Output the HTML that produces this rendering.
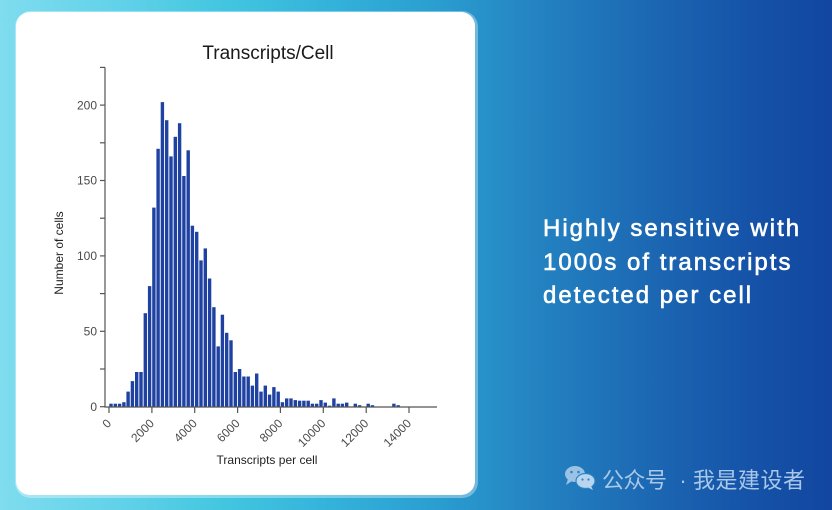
<!DOCTYPE html>
<html>
<head>
<meta charset="utf-8">
<style>
  html, body { margin: 0; padding: 0; }
  body {
    width: 832px; height: 510px; overflow: hidden; position: relative;
    background: linear-gradient(90deg, #80dcef 0%, #62d2e9 14%, #42c6e0 27%, #33b2da 40%, #2a9fd0 52%, #2484c2 64%, #1c68b3 78%, #1553a8 90%, #1246a0 100%);
    font-family: "Liberation Sans", "Noto Sans CJK SC", sans-serif;
  }
  .card {
    position: absolute; left: 16px; top: 12px; width: 459px; height: 483px;
    background: #ffffff; border-radius: 14px;
    box-shadow: 1px 1px 0 2px rgba(255,255,255,0.35);
  }
  svg { position: absolute; left: 0; top: 0; }
</style>
</head>
<body>
<div class="card"></div>
<svg width="832" height="510" viewBox="0 0 832 510" xmlns="http://www.w3.org/2000/svg">
  <text x="268" y="59" text-anchor="middle" font-family="Liberation Sans, sans-serif" font-size="19" fill="#1a1a1a">Transcripts/Cell</text>

  <g fill="#1f42a2">
    <rect x="109.3" y="403.7" width="3.4" height="3.0"/>
    <rect x="113.6" y="403.7" width="3.4" height="3.0"/>
    <rect x="117.9" y="403.7" width="3.4" height="3.0"/>
    <rect x="122.2" y="402.2" width="3.4" height="4.5"/>
    <rect x="126.4" y="391.6" width="3.4" height="15.1"/>
    <rect x="130.7" y="381.1" width="3.4" height="25.6"/>
    <rect x="135.0" y="372.0" width="3.4" height="34.7"/>
    <rect x="139.3" y="372.0" width="3.4" height="34.7"/>
    <rect x="143.6" y="313.2" width="3.4" height="93.5"/>
    <rect x="147.9" y="286.1" width="3.4" height="120.6"/>
    <rect x="152.2" y="207.6" width="3.4" height="199.1"/>
    <rect x="156.4" y="148.8" width="3.4" height="257.9"/>
    <rect x="160.7" y="102.1" width="3.4" height="304.6"/>
    <rect x="165.0" y="120.2" width="3.4" height="286.5"/>
    <rect x="169.3" y="156.4" width="3.4" height="250.3"/>
    <rect x="173.6" y="136.8" width="3.4" height="269.9"/>
    <rect x="177.9" y="123.2" width="3.4" height="283.5"/>
    <rect x="182.2" y="176.0" width="3.4" height="230.7"/>
    <rect x="186.5" y="150.3" width="3.4" height="256.4"/>
    <rect x="190.7" y="225.7" width="3.4" height="181.0"/>
    <rect x="195.0" y="231.8" width="3.4" height="174.9"/>
    <rect x="199.3" y="260.4" width="3.4" height="146.3"/>
    <rect x="203.6" y="248.4" width="3.4" height="158.3"/>
    <rect x="207.9" y="278.5" width="3.4" height="128.2"/>
    <rect x="212.2" y="307.2" width="3.4" height="99.5"/>
    <rect x="216.5" y="346.4" width="3.4" height="60.3"/>
    <rect x="220.7" y="314.7" width="3.4" height="92.0"/>
    <rect x="225.0" y="332.8" width="3.4" height="73.9"/>
    <rect x="229.3" y="340.3" width="3.4" height="66.4"/>
    <rect x="233.6" y="372.0" width="3.4" height="34.7"/>
    <rect x="237.9" y="369.0" width="3.4" height="37.7"/>
    <rect x="242.2" y="376.5" width="3.4" height="30.2"/>
    <rect x="246.5" y="376.5" width="3.4" height="30.2"/>
    <rect x="250.7" y="385.6" width="3.4" height="21.1"/>
    <rect x="255.0" y="373.5" width="3.4" height="33.2"/>
    <rect x="259.3" y="391.6" width="3.4" height="15.1"/>
    <rect x="263.6" y="385.6" width="3.4" height="21.1"/>
    <rect x="267.9" y="394.6" width="3.4" height="12.1"/>
    <rect x="272.2" y="387.1" width="3.4" height="19.6"/>
    <rect x="276.5" y="391.6" width="3.4" height="15.1"/>
    <rect x="280.7" y="402.2" width="3.4" height="4.5"/>
    <rect x="285.0" y="398.4" width="3.4" height="8.3"/>
    <rect x="289.3" y="398.4" width="3.4" height="8.3"/>
    <rect x="293.6" y="400.1" width="3.4" height="6.6"/>
    <rect x="297.9" y="400.7" width="3.4" height="6.0"/>
    <rect x="302.2" y="400.7" width="3.4" height="6.0"/>
    <rect x="306.5" y="400.7" width="3.4" height="6.0"/>
    <rect x="310.7" y="403.7" width="3.4" height="3.0"/>
    <rect x="315.0" y="403.7" width="3.4" height="3.0"/>
    <rect x="319.3" y="400.1" width="3.4" height="6.6"/>
    <rect x="323.6" y="402.6" width="3.4" height="4.1"/>
    <rect x="327.9" y="405.7" width="3.4" height="1.0"/>
    <rect x="332.2" y="398.4" width="3.4" height="8.3"/>
    <rect x="336.5" y="403.7" width="3.4" height="3.0"/>
    <rect x="340.7" y="403.7" width="3.4" height="3.0"/>
    <rect x="345.0" y="402.6" width="3.4" height="4.1"/>
    <rect x="353.6" y="403.7" width="3.4" height="3.0"/>
    <rect x="357.9" y="405.2" width="3.4" height="1.5"/>
    <rect x="366.5" y="403.7" width="3.4" height="3.0"/>
    <rect x="370.7" y="405.2" width="3.4" height="1.5"/>
    <rect x="392.2" y="403.7" width="3.4" height="3.0"/>
    <rect x="396.5" y="405.2" width="3.4" height="1.5"/>
  </g>

  <g stroke="#555" stroke-width="1.2" fill="none">
    <line x1="105" y1="67.4" x2="105" y2="407"/>
    <line x1="104.4" y1="407" x2="437" y2="407"/>
    <line x1="100" y1="406.7" x2="105" y2="406.7"/>
    <line x1="100" y1="369.0" x2="105" y2="369.0"/>
    <line x1="100" y1="331.3" x2="105" y2="331.3"/>
    <line x1="100" y1="293.6" x2="105" y2="293.6"/>
    <line x1="100" y1="255.9" x2="105" y2="255.9"/>
    <line x1="100" y1="218.2" x2="105" y2="218.2"/>
    <line x1="100" y1="180.5" x2="105" y2="180.5"/>
    <line x1="100" y1="142.8" x2="105" y2="142.8"/>
    <line x1="100" y1="105.1" x2="105" y2="105.1"/>
    <line x1="100" y1="67.4" x2="105" y2="67.4"/>
    <line x1="109" y1="407" x2="109" y2="413"/>
    <line x1="151.9" y1="407" x2="151.9" y2="413"/>
    <line x1="194.7" y1="407" x2="194.7" y2="413"/>
    <line x1="237.6" y1="407" x2="237.6" y2="413"/>
    <line x1="280.4" y1="407" x2="280.4" y2="413"/>
    <line x1="323.3" y1="407" x2="323.3" y2="413"/>
    <line x1="366.2" y1="407" x2="366.2" y2="413"/>
    <line x1="409" y1="407" x2="409" y2="413"/>
  </g>

  <g font-family="Liberation Sans, sans-serif" font-size="12" fill="#4a4a4a" text-anchor="end">
    <text x="97" y="410.9">0</text>
    <text x="97" y="335.5">50</text>
    <text x="97" y="260.1">100</text>
    <text x="97" y="184.7">150</text>
    <text x="97" y="109.3">200</text>
  </g>

  <g font-family="Liberation Sans, sans-serif" font-size="12" fill="#4a4a4a" text-anchor="end">
    <text transform="translate(112,424) rotate(-45)">0</text>
    <text transform="translate(154.9,424) rotate(-45)">2000</text>
    <text transform="translate(197.7,424) rotate(-45)">4000</text>
    <text transform="translate(240.6,424) rotate(-45)">6000</text>
    <text transform="translate(283.4,424) rotate(-45)">8000</text>
    <text transform="translate(326.3,424) rotate(-45)">10000</text>
    <text transform="translate(369.2,424) rotate(-45)">12000</text>
    <text transform="translate(412,424) rotate(-45)">14000</text>
  </g>

  <text x="267" y="464" text-anchor="middle" font-family="Liberation Sans, sans-serif" font-size="12" fill="#222">Transcripts per cell</text>
  <text transform="translate(63,253) rotate(-90)" text-anchor="middle" font-family="Liberation Sans, sans-serif" font-size="12" fill="#222">Number of cells</text>

  <g font-family="Liberation Sans, sans-serif" font-size="24" fill="#ffffff" stroke="#ffffff" stroke-width="0.6" letter-spacing="2">
    <text x="543" y="236">Highly sensitive with</text>
    <text x="543" y="270">1000s of transcripts</text>
    <text x="543" y="303">detected per cell</text>
  </g>

  <g fill="#a9c9ea" opacity="0.9">
    <ellipse cx="575" cy="474" rx="10" ry="8"/>
    <path d="M568 479 L566 485 L572 481 Z"/>
  </g>
  <g fill="#b9d5f0">
    <ellipse cx="585.5" cy="481" rx="9.5" ry="7.5" stroke="#2a86c4" stroke-width="1.2"/>
    <path d="M591 486 L593 490 L588 487.5 Z"/>
  </g>
  <g fill="#2a86c4">
    <circle cx="571.5" cy="472" r="1.3"/>
    <circle cx="578.5" cy="472" r="1.3"/>
    <circle cx="582.5" cy="479.5" r="1.1"/>
    <circle cx="588.5" cy="479.5" r="1.1"/>
  </g>
  <g font-family="Liberation Sans, Noto Sans CJK SC, sans-serif" font-size="22" fill="#a9c8e8">
    <text x="602" y="488" textLength="65" lengthAdjust="spacing">公众号</text>
    <text x="683" y="488" text-anchor="middle">·</text>
    <text x="693" y="488" textLength="112" lengthAdjust="spacing">我是建设者</text>
  </g>
</svg>
</body>
</html>
